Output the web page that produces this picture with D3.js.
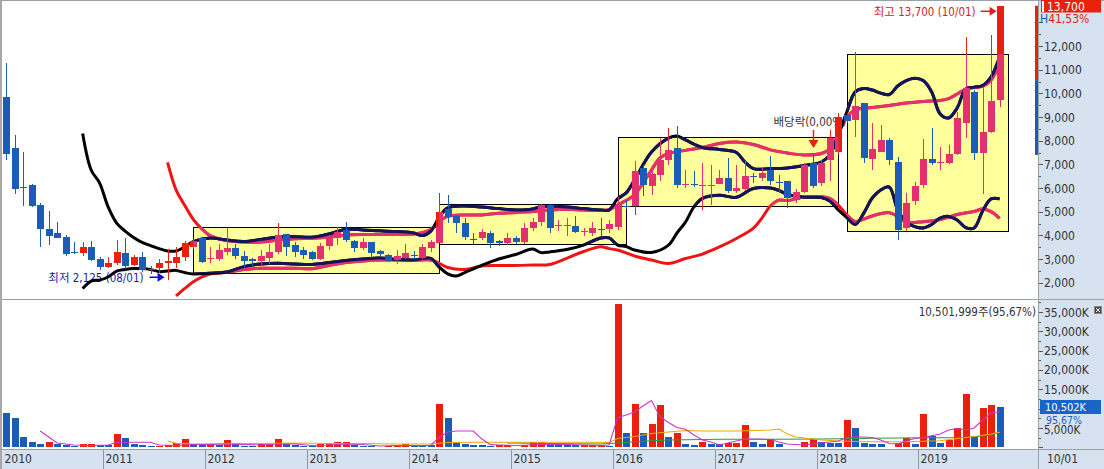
<!DOCTYPE html>
<html><head><meta charset="utf-8">
<script src="https://cdn.jsdelivr.net/npm/d3@7"></script>
<style>
html,body{margin:0;padding:0;background:#fff;}
svg{display:block;}
text{font-family:"DejaVu Sans Condensed","DejaVu Sans","Noto Sans CJK KR",sans-serif;font-size:12px;}
</style></head><body>
<svg id="c" width="1104" height="469"></svg>
<script>
// ---------------- DATA ----------------
const startYear = 2010;
const openP  = [9860,7680,6030,6130,5280,4260,4110,3920,3300,3240,3520,2990,2680,2820,3240,2750,3070,2580,2610,2820,2820,3100,3500,3880,3000,2990,3310,3480,3130,3000,2930,3030,3280,4040,3590,3380,3280,2990,3550,3880,4230,3760,3480,3710,3340,3170,2960,3060,3180,3060,3480,3690,5100,4820,4540,3850,3880,4110,3760,3660,3880,3720,4300,4580,5280,4400,4400,4400,4180,4090,4270,4260,4370,5250,5230,6850,6070,6560,7200,7690,6140,6170,6110,6130,6180,6420,5860,5970,6520,6420,6770,6260,6280,5510,5830,7060,6210,7200,7530,9090,8870,9580,7210,7530,8030,7110,4300,5450,6130,7210,7100,7070,7440,8760,10070,7470,8380,9720];
const highP  = [11300,8240,7530,6150,5350,5030,4550,4020,3710,3730,3770,3070,3070,3800,3880,3150,3310,2700,2990,3410,3520,3780,3830,3900,3520,3620,4300,3620,3340,3030,3380,3620,4520,4060,3730,3520,3350,3670,4020,4370,4550,3800,3900,3730,3400,3200,3380,3620,3340,3620,3800,5780,5700,4850,4720,4100,4250,4200,3800,4100,3960,4510,4720,5330,5330,4650,4720,4820,4300,4560,4720,4650,5630,5500,7150,6980,6980,8110,8540,8610,6770,6700,7060,6990,6770,7270,6990,7130,6640,6900,7340,6560,6300,5950,7060,7490,7200,8470,9150,9150,11760,9600,8730,8660,8100,7320,5780,6270,8060,8520,7750,7820,9220,12390,10140,10260,12470,13700];
const lowP   = [7180,5750,5240,5200,3500,3590,3900,3130,3200,3130,2930,2540,2600,2750,2570,2700,2450,2370,2400,2125,2640,2900,3420,2820,2850,2900,3170,3000,2610,2700,2760,2800,3200,3130,3070,2990,2960,2950,3400,3600,3730,3310,3380,3060,3100,2880,2800,2990,2990,3000,3310,3660,4530,4090,3800,3640,3800,3450,3550,3600,3640,3640,4200,4400,4090,4200,3970,4090,3970,3970,3970,4100,4230,5100,4870,5650,5720,6290,6990,6000,6000,6050,5080,5300,6180,5790,5790,5890,6200,6300,6140,5790,5160,5370,5790,6000,6100,6280,7400,8750,8170,7060,6760,7530,6990,3800,4200,5300,5990,6970,6760,7000,7400,8100,7180,5730,8310,9440];
const closeP = [7440,5950,6000,5250,4260,3990,3900,3210,3280,3520,2960,2680,2850,3280,2710,3070,2540,2560,2850,2920,3080,3660,3780,2890,3030,3380,3450,3130,2930,2920,3140,3310,4020,3520,3310,3170,2990,3550,3880,4150,3800,3480,3710,3240,3200,2930,3130,3240,3170,3520,3740,5000,4790,4510,3920,3830,4150,3690,3660,3880,3720,4300,4580,5280,4300,4440,4440,4150,4200,4330,4250,4480,5280,5230,6720,6140,6590,7200,7620,6140,6170,6140,6140,6140,6420,5860,6000,6490,6480,6630,6280,6240,5580,5830,6990,6100,7060,8110,9010,8820,9470,7260,7640,8030,7180,4230,5350,6090,7210,7070,7120,7440,8950,10210,7490,8380,9680,13700];
const volumeK = [8970,7670,2760,1470,950,1470,780,520,260,780,800,700,650,3360,2500,780,520,260,300,520,1030,2070,780,520,780,600,1810,780,350,340,780,800,2070,780,600,350,340,780,950,1470,1480,600,350,260,90,350,520,950,520,510,500,11120,7670,1380,950,520,510,350,520,560,170,520,1380,1400,780,770,760,500,510,520,530,400,37000,3790,11120,3790,5950,10860,2670,3790,780,520,1380,780,760,1030,1040,5690,1380,780,2070,780,170,160,1470,2070,1470,1120,1100,6980,4910,1030,780,770,170,1030,2500,780,8530,2930,1030,1900,4910,13800,2930,10260,10860,10502];

// price bands as [month index, price]
const bandAUpper = [[9,8300],[10,6760],[11,6210],[12,5200],[13,4520],[14,4180],[15,3910],[16,3700],[17,3570],[18,3440],[19,3340],[20,3340],[21,3510],[22,3730],[24,3890],[26,3800],[28,3740],[30,3830],[32,3930],[34,3940],[36,3920],[38,4060],[40,4250],[42,4230],[44,4190],[46,4160],[48,4100],[49,3990],[50,4180],[51,4780],[52,5160],[54,5240],[56,5200],[58,5130],[60,5070],[62,5110],[63,5220],[64,5240],[66,5200],[68,5130],[70,5070],[71,5070],[72,5540],[73,5790],[74,6340],[76,7520],[78,8110],[79,8200],[80,8030],[82,7710],[84,7630],[86,7500],[87,7100],[88,6820],[90,6820],[92,6850],[94,6950],[96,7100],[97,7400],[98,8240],[99,9210],[100,10060],[101,10200],[102,10140],[103,10010],[104,9950],[105,10310],[106,10540],[107,10640],[108,10540],[109,10060],[110,9130],[111,8960],[112,9380],[113,10180],[114,10260],[115,10330],[116,10700],[117,11550]];
const bandALower = [[9,1750],[10,2070],[11,2110],[12,2240],[13,2490],[14,2560],[15,2600],[16,2600],[17,2560],[18,2470],[19,2490],[20,2520],[21,2430],[22,2370],[24,2400],[26,2450],[28,2680],[30,2790],[32,2820],[34,2790],[36,2770],[38,2850],[40,2940],[42,3000],[44,3040],[46,2980],[48,2960],[50,3030],[51,2660],[52,2370],[53,2280],[54,2430],[56,2730],[58,3000],[60,3190],[62,3420],[63,3270],[64,3300],[66,3400],[68,3590],[70,3890],[71,3890],[72,3590],[73,3530],[74,3380],[76,3280],[78,3590],[79,4100],[80,4560],[81,5200],[82,5560],[84,5690],[86,5610],[88,5980],[90,6000],[91,5900],[92,5730],[94,5610],[96,5600],[97,5450],[98,5070],[99,4750],[100,4460],[101,4940],[102,5580],[103,5920],[104,6040],[105,5070],[106,4560],[107,4370],[108,4310],[109,4460],[110,4730],[111,4800],[112,4650],[113,4330],[114,4310],[115,5030],[116,5540],[117,5540]];
const bandBUpper = [[19,7080],[20,5920],[21,5280],[22,4690],[23,4290],[24,3990],[26,3780],[28,3720],[30,3720],[32,3800],[34,3860],[36,3880],[38,3930],[40,4020],[42,4040],[44,4040],[46,4040],[48,4060],[50,4250],[51,4590],[52,4800],[54,4860],[56,4860],[58,4930],[60,4970],[62,5010],[64,5070],[66,5100],[68,5070],[70,5050],[71,5090],[72,5280],[73,5470],[74,5710],[75,6210],[76,6760],[77,7270],[78,7460],[80,7590],[82,7710],[84,7880],[86,7940],[88,7840],[90,7610],[92,7480],[94,7400],[96,7460],[97,7650],[98,8280],[99,9000],[100,9300],[102,9400],[104,9490],[106,9590],[108,9660],[110,9700],[111,9780],[112,9970],[113,10180],[114,10250],[115,10290],[116,10560],[117,11240]];
const bandBLower = [[20,1440],[21,1750],[22,2030],[23,2240],[24,2370],[26,2440],[28,2560],[30,2610],[32,2610],[34,2610],[36,2590],[38,2730],[40,2850],[42,2920],[44,2960],[46,2960],[48,2940],[50,2960],[51,2820],[52,2640],[54,2560],[56,2710],[58,2730],[60,2730],[62,2750],[64,2770],[66,3030],[68,3320],[70,3520],[71,3440],[72,3380],[74,3130],[76,2960],[78,2810],[80,3020],[82,3210],[84,3510],[86,3870],[88,4310],[89,4730],[90,5240],[91,5490],[92,5470],[94,5620],[96,5630],[97,5560],[98,5280],[99,4860],[100,4580],[101,4690],[102,4820],[104,4960],[105,4800],[106,4560],[108,4580],[110,4670],[112,4880],[114,5010],[115,5110],[116,5000],[117,4720]];

// volume moving averages as [month index, K]
const volMA5  = [[4,4220],[5,2660],[6,1110],[8,600],[10,470],[12,600],[13,1240],[15,1290],[17,1290],[18,600],[20,470],[22,720],[24,720],[26,850],[28,720],[30,600],[32,850],[34,850],[36,470],[38,600],[40,850],[42,720],[44,340],[46,470],[48,470],[50,470],[51,2620],[52,3960],[53,4220],[54,4220],[55,4220],[56,2200],[57,700],[58,600],[60,470],[62,600],[64,720],[66,720],[68,600],[70,470],[71,600],[72,7650],[73,8350],[74,9130],[75,10680],[76,12100],[77,7840],[78,6410],[79,5120],[80,4660],[81,3180],[82,1890],[83,1370],[84,600],[86,1630],[87,2150],[88,2150],[90,2020],[91,1370],[92,850],[94,600],[96,1110],[98,1630],[99,2530],[100,2740],[102,2530],[103,1890],[104,980],[105,850],[106,1630],[107,2280],[108,2530],[110,3440],[111,4470],[112,4860],[113,4470],[114,4990],[115,7060],[116,8870],[117,9210]];
const volMA20 = [[19,1630],[20,1030],[22,850],[26,980],[30,980],[34,1110],[38,980],[42,980],[46,850],[50,850],[52,1240],[56,1290],[60,1290],[64,1290],[68,1290],[71,1240],[72,2280],[74,2790],[76,3570],[78,3960],[80,4340],[82,4220],[84,4220],[86,4220],[88,4340],[90,4470],[91,4730],[92,3440],[93,2660],[94,2410],[96,1890],[98,1630],[102,1450],[106,1450],[110,1710],[112,2280],[114,2790],[116,3440],[117,3880]];
const volMA60 = [[59,1110],[64,980],[70,850],[72,1110],[74,1450],[78,1890],[84,2070],[90,2070],[96,2150],[102,2330],[108,2480],[112,2480],[114,2660],[116,3180],[117,3880]];

// highlighted boxes
const boxStart = ["2011-11","2014-04","2016-01","2018-04"];
const boxEnd   = ["2014-04","2016-02","2018-03","2019-11"];
const boxHigh  = [4370,5310,8170,11650];
const boxLow   = [2410,3620,5240,4180];

// axes
const priceTicks  = [2000,3000,4000,5000,6000,7000,8000,9000,10000,11000,12000];
const volumeTicks = [5000,15000,20000,25000,30000,35000];
const yearLabels  = ["2010","2011","2012","2013","2014","2015","2016","2017","2018","2019"];
const lastDateLabel = "10/01";
const rangeBar = [13700,10560,7400];
const lowMark  = {label:"최저 2,125 (08/01)", month:"2011-08", price:2125};
const highMark = {label:"최고 13,700 (10/01)", month:"2019-10", price:13700};
const divMark  = {label:"배당락(0,00%)", month:"2017-12"};

// ---------------- CHART ----------------
const svg = d3.select("#c");
const N = closeP.length;
const mIdx = s => (+s.slice(0,4) - startYear) * 12 + (+s.slice(5,7) - 1);
const fmt = d3.format(",");
const fmtC = v => fmt(v).replace(/\./g, ",");

const x  = d3.scaleLinear().domain([0, N - 1]).range([6.25, 999.6]);
const yP = d3.scaleLinear().domain([2000, 12000]).range([282.7, 46]);
const yV = d3.scaleLinear().domain([0, 35000]).range([447.3, 312]);

const C = {up:"#e8200c", down:"#1a5cb8", upIn:"#e3306e", bandA:"#000000", bandAIn:"#14145c",
           bandB:"#ee1414", bandBIn:"#e3306e", box:"#ffff9c", panel:"#d6e2f0", frame:"#9aa0a8", text:"#333"};

const defs = svg.append("defs");
defs.append("clipPath").attr("id","pclip").append("rect").attr("x",2).attr("y",1).attr("width",1036).attr("height",297);
const bclip = defs.append("clipPath").attr("id","bclip");
defs.append("clipPath").attr("id","vclip").append("rect").attr("x",2).attr("y",300).attr("width",1036).attr("height",149);

svg.append("rect").attr("width",1104).attr("height",469).attr("fill","#fff");

// boxes
const boxes = boxStart.map((s,k)=>({x0:x(mIdx(s)), x1:x(mIdx(boxEnd[k])), y0:yP(boxHigh[k]), y1:yP(boxLow[k])}));
bclip.selectAll("rect").data(boxes).join("rect")
  .attr("x",d=>d.x0).attr("y",d=>d.y0).attr("width",d=>d.x1-d.x0).attr("height",d=>d.y1-d.y0);

const pg = svg.append("g").attr("clip-path","url(#pclip)");
pg.selectAll("rect.box").data(boxes).join("rect").attr("class","box")
  .attr("x",d=>Math.round(d.x0)+0.5).attr("y",d=>Math.round(d.y0)+0.5)
  .attr("width",d=>Math.round(d.x1)-Math.round(d.x0)).attr("height",d=>Math.round(d.y1)-Math.round(d.y0))
  .attr("fill",C.box).attr("stroke","#000").attr("stroke-width",1);

// annotations (under candles)
const ann = pg.append("g");
function arrowH(g, x0, x1, y, col){
  g.append("line").attr("x1",x0).attr("x2",x1-5).attr("y1",y).attr("y2",y).attr("stroke",col).attr("stroke-width",1.5);
  g.append("path").attr("d",`M${x1},${y} L${x1-7},${y-4.5} L${x1-7},${y+4.5} Z`).attr("fill",col);
}
{
  const lx = x(mIdx(lowMark.month));
  ann.append("text").attr("x",lx-24).attr("y",yP(lowMark.price)+2).attr("text-anchor","end")
     .style("font-size","11.5px").attr("fill","#1c1ca6").text(lowMark.label);
  arrowH(ann, lx-18, lx-3, yP(lowMark.price)-2.5, "#0a0ae6");
}
{
  const hx = x(mIdx(highMark.month));
  ann.append("text").attr("x",hx-24).attr("y",yP(highMark.price)+10).attr("text-anchor","end")
     .style("font-size","11.5px").attr("fill","#e02020").text(highMark.label);
  arrowH(ann, hx-19, hx-3, yP(highMark.price)+5.5, "#e02020");
}
{
  const dx = Math.round(x(mIdx(divMark.month)))+0.5;
  ann.append("text").attr("x",dx-40).attr("y",126).style("font-size","11.5px").attr("fill","#333").text(divMark.label);
  ann.append("line").attr("x1",dx).attr("x2",dx).attr("y1",130).attr("y2",141).attr("stroke","#e8200c").attr("stroke-width",1.5);
  ann.append("path").attr("d",`M${dx-5},${140} L${dx+5},${140} L${dx},${148} Z`).attr("fill","#e8200c");
}

const bandLine = d3.line().x(d=>x(d[0])).y(d=>yP(d[1])).curve(d3.curveCatmullRom.alpha(0.5));
function drawLayer(g, colA, colB, upCol, downCol){
  [bandBLower, bandBUpper].forEach(b=>g.append("path").attr("d",bandLine(b)).attr("fill","none")
     .attr("stroke",colB).attr("stroke-width",3).attr("stroke-linejoin","round"));
  [bandALower, bandAUpper].forEach(b=>g.append("path").attr("d",bandLine(b)).attr("fill","none")
     .attr("stroke",colA).attr("stroke-width",3).attr("stroke-linejoin","round"));
  const cg = g.append("g").attr("shape-rendering","crispEdges");
  const idx = d3.range(N);
  const col = i => closeP[i] >= openP[i] ? upCol : downCol;
  cg.selectAll("line").data(idx).join("line")
    .attr("x1",i=>Math.round(x(i))+0.5).attr("x2",i=>Math.round(x(i))+0.5)
    .attr("y1",i=>yP(highP[i])).attr("y2",i=>yP(lowP[i])).attr("stroke",col).attr("stroke-width",1);
  cg.selectAll("rect").data(idx).join("rect")
    .attr("x",i=>Math.round(x(i))-3).attr("width",7)
    .attr("y",i=>Math.round(yP(Math.max(openP[i],closeP[i]))))
    .attr("height",i=>Math.max(1,Math.round(yP(Math.min(openP[i],closeP[i])))-Math.round(yP(Math.max(openP[i],closeP[i])))))
    .attr("fill",col);
}
drawLayer(pg.append("g"), C.bandA, C.bandB, C.up, C.down);
drawLayer(pg.append("g").attr("clip-path","url(#bclip)"), C.bandAIn, C.bandBIn, C.upIn, C.down);

// ---- volume panel ----
const vg = svg.append("g").attr("clip-path","url(#vclip)");
vg.append("g").attr("shape-rendering","crispEdges").selectAll("rect").data(d3.range(N)).join("rect")
  .attr("x",i=>Math.round(x(i))-3).attr("width",7)
  .attr("y",i=>Math.round(yV(volumeK[i]))).attr("height",i=>Math.round(yV(0))-Math.round(yV(volumeK[i])))
  .attr("fill",i=> (i>0 && volumeK[i] > volumeK[i-1]) ? C.up : C.down);
const vLine = d3.line().x(d=>x(d[0])).y(d=>yV(d[1]));
[[volMA60,"#2a9a3a"],[volMA20,"#f0a800"],[volMA5,"#cc33cc"]].forEach(([d,c])=>
  vg.append("path").attr("d",vLine(d)).attr("fill","none").attr("stroke",c).attr("stroke-width",1.1));

// ---- frame & axes ----
svg.append("rect").attr("x",1038).attr("y",0).attr("width",66).attr("height",450).attr("fill",C.panel);
svg.append("rect").attr("x",0).attr("y",450).attr("width",1104).attr("height",19).attr("fill",C.panel);
const fr = svg.append("g").attr("shape-rendering","crispEdges").attr("stroke",C.frame);
fr.append("line").attr("x1",0).attr("x2",1104).attr("y1",0.5).attr("y2",0.5);
fr.append("line").attr("x1",0).attr("x2",1104).attr("y1",299.5).attr("y2",299.5);
fr.append("line").attr("x1",0).attr("x2",1104).attr("y1",449.5).attr("y2",449.5);
fr.append("line").attr("x1",1038.5).attr("x2",1038.5).attr("y1",0).attr("y2",469);
svg.append("rect").attr("x",0).attr("y",0).attr("width",2).attr("height",469).attr("fill","#a8a8a8");

// price axis
const ax = svg.append("g").attr("shape-rendering","crispEdges");
d3.range(2000, 13001, 500).forEach(v=>{
  const yy = Math.round(yP(v))+0.5;
  ax.append("line").attr("x1",1039).attr("x2",v%1000===0?1043:1041).attr("y1",yy).attr("y2",yy).attr("stroke","#555");
});
svg.append("g").selectAll("text").data(priceTicks).join("text")
  .attr("x",1044).attr("y",d=>yP(d)+4.5).attr("fill",C.text).text(d=>fmtC(d));
// volume axis
d3.range(0, 37501, 2500).forEach(v=>{
  const yy = Math.round(yV(v))+0.5;
  if (yy < 302) return;
  ax.append("line").attr("x1",1039).attr("x2",v%5000===0?1043:1041).attr("y1",yy).attr("y2",yy).attr("stroke","#555");
});
svg.append("g").selectAll("text").data(volumeTicks).join("text")
  .attr("x",1044).attr("y",d=>yV(d)+(d===5000?6.5:4.5)).style("font-size",d=>d===5000?"11.5px":null)
  .attr("fill",C.text).text(d=>fmtC(d)+"K");

// current price range bar and label
svg.append("rect").attr("x",1035).attr("width",3).attr("y",yP(rangeBar[0])).attr("height",yP(rangeBar[1])-yP(rangeBar[0])).attr("fill","#e8200c");
svg.append("rect").attr("x",1035).attr("width",3).attr("y",yP(rangeBar[1])).attr("height",yP(rangeBar[2])-yP(rangeBar[1])).attr("fill",C.down);
svg.append("rect").attr("x",1041).attr("y",0).attr("width",60).attr("height",12.5).attr("fill","#e8200c");
svg.append("rect").attr("x",1042).attr("y",1).attr("width",2).attr("height",11).attr("fill","#fff");
svg.append("text").attr("x",1047).attr("y",10.5).attr("fill","#fff").text(fmtC(closeP[N-1]));
const ht = svg.append("text").attr("x",1040).attr("y",23);
ht.append("tspan").attr("fill",C.down).text("H");
ht.append("tspan").attr("fill","#e8200c").text("41,53%");

// volume labels
svg.append("text").attr("x",1036).attr("y",316).attr("text-anchor","end").style("font-size","11.5px").attr("fill",C.text).text("10,501,999주(95,67%)");
svg.append("rect").attr("x",1040).attr("y",400).attr("width",61).attr("height",14).attr("fill","#1964c8");
svg.append("text").attr("x",1045).attr("y",410.5).style("font-size","11px").attr("fill","#fff").text(fmtC(volumeK[N-1])+"K");
svg.append("text").attr("x",1046).attr("y",423.5).style("font-size","10.5px").attr("fill","#1f5fbf").text("95,67%");
svg.append("rect").attr("x",1094.5).attr("y",306.5).attr("width",7).attr("height",7).attr("fill","#444").attr("stroke","#888");
svg.append("path").attr("d","M1096,308 L1100,312 M1100,308 L1096,312").attr("stroke","#fff").attr("stroke-width",1);

// date strip
const dg = svg.append("g");
yearLabels.forEach((lab,k)=>{
  const dx = Math.round(x(k*12) - 4.75) + 0.5;
  if (k>0) dg.append("line").attr("x1",dx).attr("x2",dx).attr("y1",450).attr("y2",469).attr("stroke","#8a98a8").attr("shape-rendering","crispEdges");
  dg.append("text").attr("x",Math.max(dx,2)+2).attr("y",463).attr("fill",C.text).text(lab);
});
dg.append("text").attr("x",1047).attr("y",463).attr("fill",C.text).text(lastDateLabel);
</script>
</body></html>
